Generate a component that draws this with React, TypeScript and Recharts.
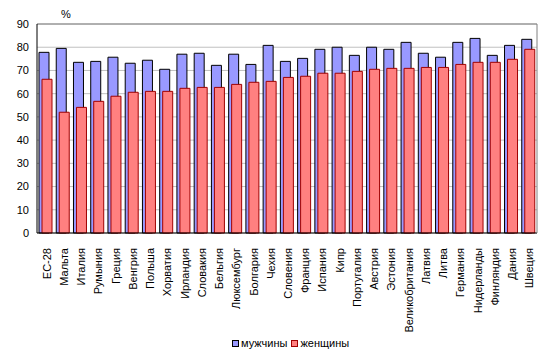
import React from 'react';
import { BarChart, Bar, XAxis, YAxis, CartesianGrid, ReferenceLine } from 'recharts';

const countries = ['ЕС-28','Мальта','Италия','Румыния','Греция','Венгрия','Польша','Хорватия','Ирландия','Словакия','Бельгия','Люксембург','Болгария','Чехия','Словения','Франция','Испания','Кипр','Португалия','Австрия','Эстония','Великобритания','Латвия','Литва','Германия','Нидерланды','Финляндия','Дания','Швеция'];
const men = [77.8,79.5,73.5,73.9,75.7,73.1,74.4,70.5,77.0,77.4,72.2,77.0,72.6,80.8,73.9,75.2,79.1,80.0,76.5,80.0,79.1,82.1,77.4,75.7,82.1,83.8,76.5,80.8,83.4];
const women = [66.2,52.0,54.1,56.7,58.9,60.6,61.0,61.0,62.3,62.7,62.7,64.0,64.9,65.3,67.0,67.5,68.8,68.8,69.6,70.5,70.9,70.9,71.3,71.3,72.6,73.5,73.5,74.8,79.1];
const yTicks = [0,10,20,30,40,50,60,70,80,90];
const seriesNames = ['мужчины','женщины'];

const data = countries.map((c, i) => ({ name: c, men: men[i], women: women[i] }));

const FONT = '"Liberation Sans", Arial, sans-serif';

const XTick = (props: any) => {
  const { x, y, payload } = props;
  return (
    <text transform={`translate(${x + 1},${y + 7}) rotate(-90)`} textAnchor="end" dominantBaseline="central" fontSize={11} fontFamily={FONT} fill="#000">
      {payload.value}
    </text>
  );
};

export default function App() {
  return (
    <div style={{ position: 'absolute', left: 0, top: 0, width: 551, height: 357, background: '#fff', fontFamily: FONT }}>
      <BarChart width={551} height={357} data={data} margin={{ top: 24, right: 13, left: 0, bottom: 0 }} barSize={10} barGap={-7} barCategoryGap={0}>
        <CartesianGrid horizontal vertical={false} stroke="#C0C0C0" />
        <XAxis dataKey="name" interval={0} height={124} tick={<XTick />} tickLine={false} axisLine={{ stroke: '#000' }} />
        <YAxis domain={[0, 90]} ticks={yTicks} width={37} interval={0} tick={{ fontSize: 11, fill: '#000', fontFamily: FONT }} tickLine={false} axisLine={{ stroke: '#000' }} />
        <YAxis yAxisId="r" orientation="right" domain={[0, 90]} width={1} tick={false} tickLine={false} axisLine={{ stroke: '#808080' }} />
        <ReferenceLine y={90} stroke="#808080" />
        <Bar dataKey="men" name={seriesNames[0]} fill="#9999FF" stroke="#000" strokeWidth={1} isAnimationActive={false} />
        <Bar dataKey="women" name={seriesNames[1]} fill="#FF8080" stroke="#A00000" strokeWidth={1} isAnimationActive={false} />
      </BarChart>
      <div style={{ position: 'absolute', left: 61, top: 8, fontSize: 11, fontFamily: FONT }}>%</div>
      <div style={{ position: 'absolute', left: 232, top: 337, fontSize: 11, fontFamily: FONT, display: 'flex', alignItems: 'center', whiteSpace: 'nowrap' }}>
        <span style={{ display: 'inline-block', width: 5, height: 5, background: '#9999FF', border: '1px solid #000', marginRight: 2 }} />
        <span style={{ marginRight: 4 }}>{seriesNames[0]}</span>
        <span style={{ display: 'inline-block', width: 5, height: 5, background: '#FF8080', border: '1px solid #A00000', marginRight: 2 }} />
        <span>{seriesNames[1]}</span>
      </div>
    </div>
  );
}
